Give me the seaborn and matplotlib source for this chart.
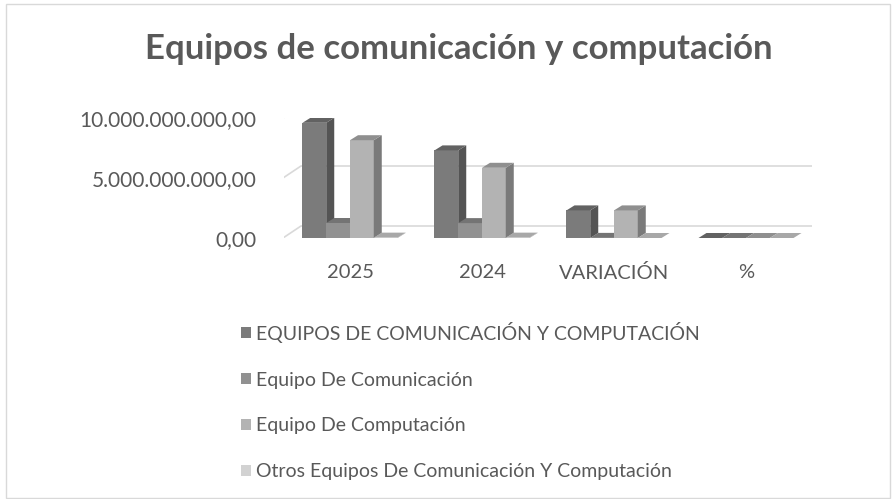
# Basics
import numpy as np
import pandas as pd

# Visualization
import matplotlib
matplotlib.use('Agg')
import matplotlib.pyplot as plt
from matplotlib.patches import Polygon, Rectangle, Patch
from matplotlib.ticker import FuncFormatter
import seaborn as sns

# Data
categories = ['2025', '2024', 'VARIACIÓN', '%']
series_names = ['EQUIPOS DE COMUNICACIÓN Y COMPUTACIÓN',
                'Equipo De Comunicación',
                'Equipo De Computación',
                'Otros Equipos De Comunicación Y Computación']
equipos_total = [9.6e9, 7.3e9, 2.3e9, 0.32]
equipo_comunicacion = [1.25e9, 1.24e9, 0.01e9, 0.01]
equipo_computacion = [8.15e9, 5.85e9, 2.3e9, 0.39]
otros_equipos = [0.03e9, 0.03e9, 0.0, 0.0]
colors = ['#7b7b7b', '#919191', '#b3b3b3', '#d2d2d2']
y_ticks = [0, 5e9, 10e9]

TEXT = '#595959'
FONT = ['Lato', 'DejaVu Sans']

sns.set_style('white')
plt.rcParams['font.family'] = FONT


def shade(color, factor):
    '''Darken a colour by a factor for the faux 3D faces.'''
    rgb = np.array(matplotlib.colors.to_rgb(color)) * factor
    return tuple(np.clip(rgb, 0, 1))


def es_number(v, pos=None):
    '''Format numbers like 10.000.000.000,00'''
    s = f'{v:,.2f}'
    return s.replace(',', 'X').replace('.', ',').replace('X', '.')


# Long format table for seaborn
df = pd.DataFrame({
    'categoria': categories * 4,
    'serie': [s for s in series_names for _ in categories],
    'valor': equipos_total + equipo_comunicacion + equipo_computacion + otros_equipos,
})

W, H = 896, 499
fig = plt.figure(figsize=(W / 100, H / 100), dpi=100)
ax = fig.add_axes([284 / W, (H - 238) / H, 528 / W, 120 / H])

sns.barplot(data=df, x='categoria', y='valor', hue='serie', order=categories,
            hue_order=series_names, palette=colors, saturation=1,
            width=0.72, gap=0, legend=False, ax=ax)

ax.set_xlim(-0.5, len(categories) - 0.5)
ax.set_ylim(0, 10e9)
ax.set_yticks(y_ticks)
ax.yaxis.set_major_formatter(FuncFormatter(es_number))
ax.set_xlabel('')
ax.set_ylabel('')
for s in ax.spines.values():
    s.set_visible(False)
ax.tick_params(axis='y', length=0, pad=20, labelsize=15, labelcolor=TEXT)
ax.tick_params(axis='x', length=0, pad=19, labelsize=14.5, labelcolor=TEXT)

# Back wall gridlines (display coordinates, shifted by the floor depth)
floor_dx, floor_dy = 17, 12
x0, x1 = ax.get_xlim()
for v in y_ticks:
    (px0, py), (px1, _) = ax.transData.transform([(x0, v), (x1, v)])
    ax.add_line(plt.Line2D([px0 - 4, px0 + floor_dx, px1 + floor_dx],
                           [py - 2, py + floor_dy, py + floor_dy],
                           transform=None, color='#d9d9d9', lw=1.2, zorder=1))

# Faux 3D sides and tops for every bar
bar_dx, bar_dy = 8, 5
for k, container in enumerate(ax.containers):
    for bar in container:
        bar.set_zorder(3 + k)
        bar.set_edgecolor('none')
        bx, by = bar.get_x(), bar.get_y()
        bw, bh = bar.get_width(), bar.get_height()
        (lx, by0), (rx, ty) = ax.transData.transform([(bx, by), (bx + bw, by + bh)])
        side = [(rx, by0), (rx + bar_dx, by0 + bar_dy),
                (rx + bar_dx, ty + bar_dy), (rx, ty)]
        top = [(lx, ty), (rx, ty), (rx + bar_dx, ty + bar_dy),
               (lx + bar_dx, ty + bar_dy)]
        ax.add_patch(Polygon(side, closed=True, transform=None,
                             facecolor=shade(colors[k], 0.68), edgecolor='none',
                             zorder=3 + k))
        ax.add_patch(Polygon(top, closed=True, transform=None,
                             facecolor=shade(colors[k], 0.8), edgecolor='none',
                             zorder=3 + k))

# Title
fig.text(459 / W, (H - 59) / H, 'Equipos de comunicación y computación',
         ha='center', va='baseline', fontsize=25, fontweight='bold', color=TEXT)

# Legend
handles = [Patch(facecolor=c, edgecolor='none') for c in colors]
fig.legend(handles, series_names, loc='upper left',
           bbox_to_anchor=(233 / W, (H - 314) / H), frameon=False,
           fontsize=14, labelcolor=TEXT, handlelength=0.5, handleheight=0.5,
           handletextpad=0.3, labelspacing=1.48, borderaxespad=0)

# Chart border
fig.add_artist(Rectangle((6 / W, 0.002), 884 / W, (H - 5) / H,
                         transform=fig.transFigure, fill=False,
                         edgecolor='#d9d9d9', lw=1))

fig.savefig('out.png', dpi=100)
